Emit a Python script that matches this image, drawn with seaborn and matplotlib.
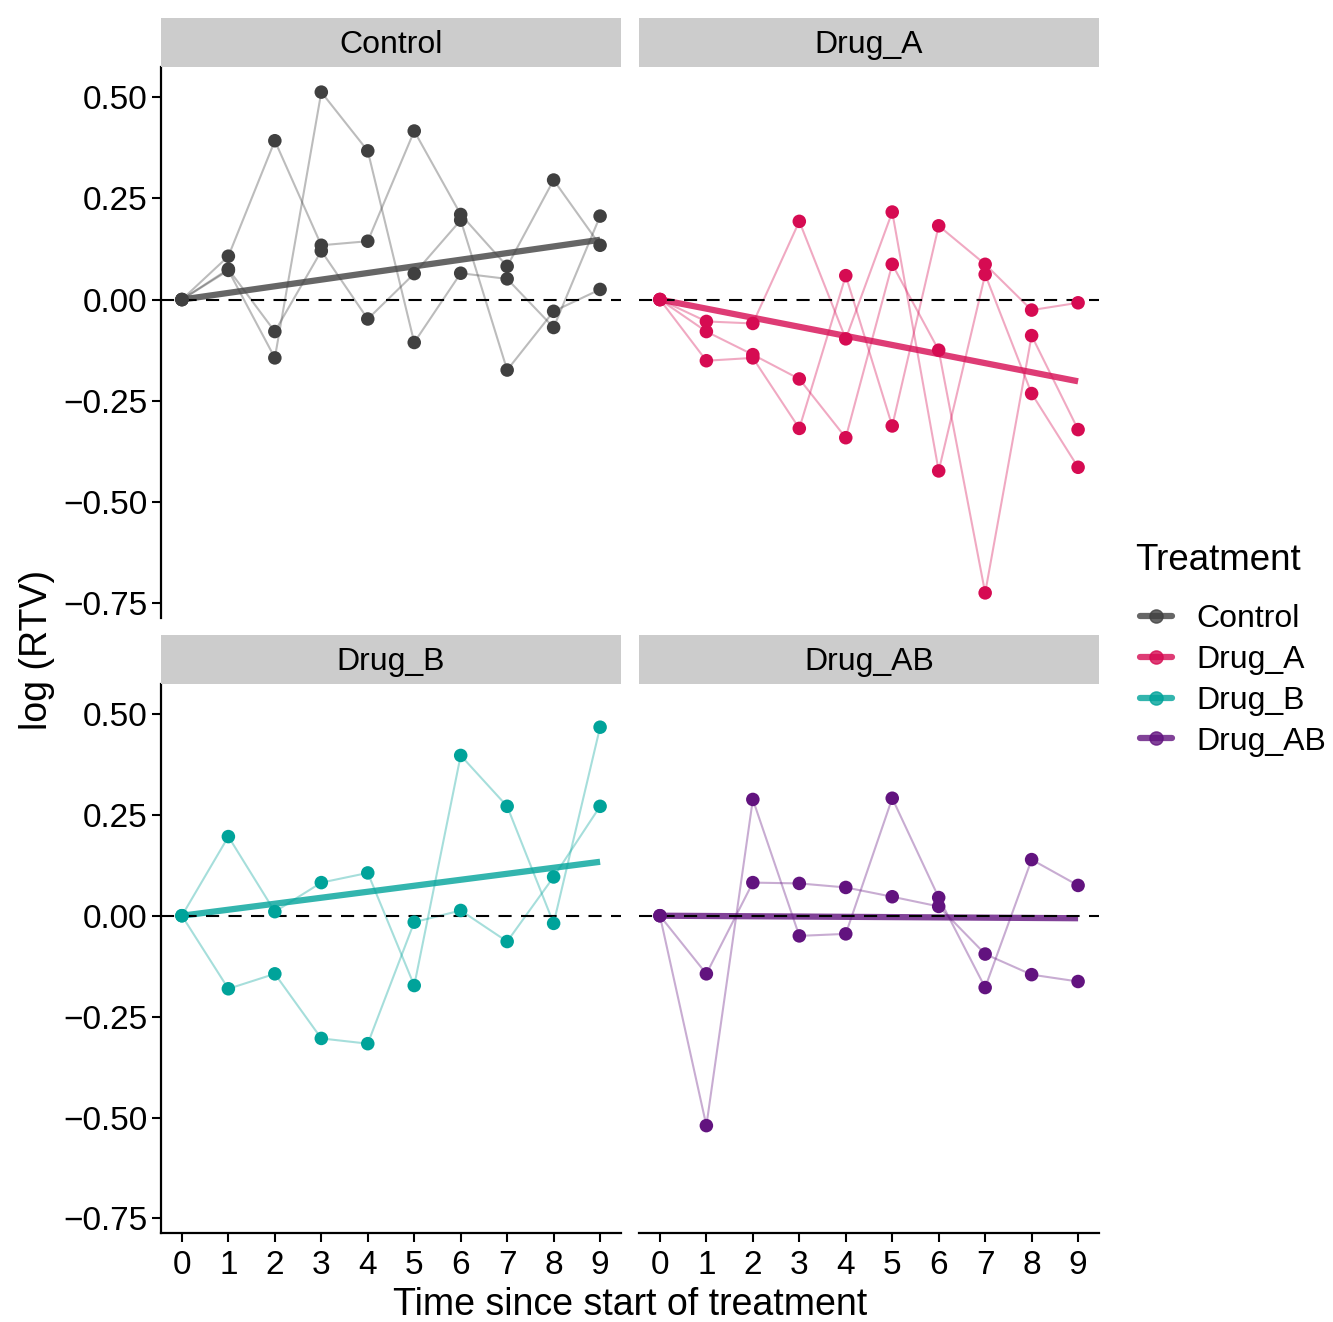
import numpy as np
import pandas as pd
import matplotlib
matplotlib.use("Agg")
import matplotlib.pyplot as plt
from matplotlib.lines import Line2D
import seaborn as sns

# tempo (dias desde o inicio do tratamento)
time = list(range(10))

# log(RTV) por animal
control_s1 = [0, 0.107, 0.392, 0.134, 0.144, 0.416, 0.210, 0.082, 0.295, 0.134]
control_s2 = [0, 0.072, -0.144, 0.512, 0.367, -0.106, 0.065, 0.051, -0.069, 0.206]
control_s3 = [0, 0.075, -0.079, 0.120, -0.048, 0.064, 0.196, -0.174, -0.029, 0.025]

drug_a_s1 = [0, -0.054, -0.059, 0.193, -0.097, 0.216, -0.423, 0.062, -0.232, -0.414]
drug_a_s2 = [0, -0.079, -0.136, -0.196, -0.341, 0.087, -0.125, -0.724, -0.089, -0.321]
drug_a_s3 = [0, -0.151, -0.144, -0.318, 0.059, -0.312, 0.182, 0.087, -0.026, -0.008]

drug_b_s1 = [0, 0.196, 0.010, 0.082, 0.106, -0.173, 0.397, 0.271, -0.019, 0.467]
drug_b_s2 = [0, -0.181, -0.144, -0.304, -0.317, -0.016, 0.013, -0.064, 0.096, 0.271]

drug_ab_s1 = [0, -0.144, 0.082, 0.080, 0.070, 0.047, 0.023, -0.095, -0.146, -0.163]
drug_ab_s2 = [0, -0.520, 0.288, -0.050, -0.045, 0.291, 0.045, -0.178, 0.139, 0.075]

TREATMENTS = ["Control", "Drug_A", "Drug_B", "Drug_AB"]
COLORS = ["#404040", "#d60b52", "#00a39a", "#62137f"]
subjects = {
    "Control": [control_s1, control_s2, control_s3],
    "Drug_A": [drug_a_s1, drug_a_s2, drug_a_s3],
    "Drug_B": [drug_b_s1, drug_b_s2],
    "Drug_AB": [drug_ab_s1, drug_ab_s2],
}

yticks = [-0.75, -0.5, -0.25, 0, 0.25, 0.5]
ytick_labels = ["\u22120.75", "\u22120.50", "\u22120.25", "0.00", "0.25", "0.50"]

rows = []
for trt, series in subjects.items():
    for i, vals in enumerate(series):
        for t, v in zip(time, vals):
            rows.append({"Treatment": trt, "subject": f"{trt}_{i}", "time": t, "log_rtv": v})
df = pd.DataFrame(rows)

sns.set_theme(style="white")
plt.rcParams["font.family"] = ["Liberation Sans", "DejaVu Sans"]
plt.rcParams["text.color"] = "black"
plt.rcParams["xtick.color"] = "black"
plt.rcParams["ytick.color"] = "black"

W, H = 1333, 1322
fig = plt.figure(figsize=(W / 100, H / 100), dpi=100)

def rect(l, t, r, b):
    return [l / W, 1 - b / H, (r - l) / W, (b - t) / H]

# paineis: (esquerda, topo, direita, base) em pixels
panels = {
    "Control": (161, 67, 621, 618),
    "Drug_A": (639, 67, 1099, 618),
    "Drug_B": (161, 684, 621, 1233),
    "Drug_AB": (639, 684, 1099, 1233),
}

for trt, color in zip(TREATMENTS, COLORS):
    l, t, r, b = panels[trt]
    ax = fig.add_axes(rect(l, t, r, b))
    sub = df[df["Treatment"] == trt]

    sns.lineplot(data=sub, x="time", y="log_rtv", units="subject", estimator=None,
                 color=color, alpha=0.35, lw=1.5, ax=ax, legend=False, zorder=1)

    # regressao pela origem
    x = sub["time"].to_numpy(float)
    y = sub["log_rtv"].to_numpy(float)
    slope = (x * y).sum() / (x * x).sum()
    fit = pd.DataFrame({"time": [0, 9], "log_rtv": [0, 9 * slope]})
    sns.lineplot(data=fit, x="time", y="log_rtv", color=color, alpha=0.8, lw=4.5,
                 ax=ax, legend=False, zorder=2, solid_capstyle="butt")

    ax.axhline(0, color="black", lw=1.5, ls=(0, (6.3, 4.5)), zorder=3)

    sns.scatterplot(data=sub, x="time", y="log_rtv", color=color, s=95,
                    edgecolor="none", ax=ax, legend=False, zorder=4)

    ax.set_xlim(-0.45, 9.45)
    ax.set_ylim(-0.786, 0.574)
    ax.set_xlabel("")
    ax.set_ylabel("")
    ax.set_xticks(time)
    ax.set_yticks(yticks)
    ax.set_yticklabels(ytick_labels)
    ax.tick_params(length=6.5, width=1.5, labelsize=24, pad=3, colors="black",
                   bottom=True, left=True)
    ax.tick_params(axis="x", pad=6)
    for s in ax.spines.values():
        s.set_visible(False)
        s.set_linewidth(1.6)
        s.set_color("black")
    if l == 161:
        ax.spines["left"].set_visible(True)
    else:
        ax.tick_params(left=False, labelleft=False)
    if t == 684:
        ax.spines["bottom"].set_visible(True)
    else:
        ax.tick_params(bottom=False, labelbottom=False)
    ax.patch.set_alpha(0)

    # faixa do titulo do painel
    sax = fig.add_axes(rect(l, t - 49, r, t))
    sax.set_facecolor("#cccccc")
    sax.set_xticks([])
    sax.set_yticks([])
    for s in sax.spines.values():
        s.set_visible(False)
    sax.text(0.5, 0.45, trt, ha="center", va="center", fontsize=23, transform=sax.transAxes)

fig.text(630 / W, 1 - 1305 / H, "Time since start of treatment", ha="center", va="center", fontsize=27)
fig.text(37 / W, 1 - 650 / H, "log (RTV)", ha="center", va="center", rotation=90, fontsize=27)

# legenda
fig.text(1135 / W, 1 - 561 / H, "Treatment", ha="left", va="center", fontsize=26.5)
handles = [Line2D([0], [0], color=c, lw=4.5, alpha=0.8, marker="o", markersize=9.5,
                  markerfacecolor=c, markeredgecolor=c) for c in COLORS]
leg = fig.legend(handles, TREATMENTS, loc="upper left",
                 bbox_to_anchor=(1140 / W, 1 - 604 / H), frameon=False, fontsize=23,
                 handlelength=1.0, handletextpad=0.75, labelspacing=0.34,
                 borderpad=0, borderaxespad=0)

fig.savefig("out.png", dpi=100)
